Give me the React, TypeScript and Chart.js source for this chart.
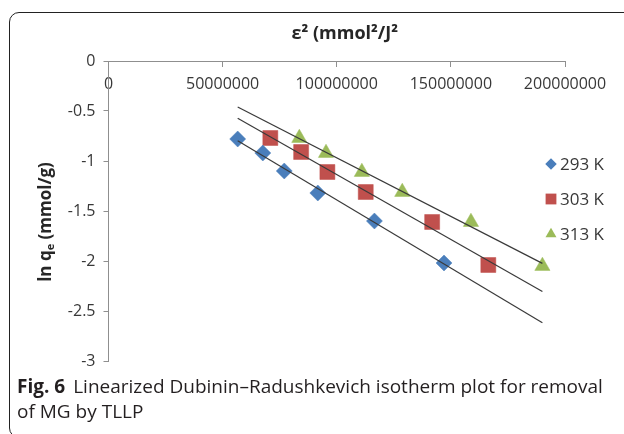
import React, { useEffect, useRef } from 'react';
import { Chart, registerables } from 'chart.js';

Chart.register(...registerables);

// Adsorption potential squared (mmol²/J²) and ln qe (mmol/g) for each temperature
const seriesNames = ['293 K', '303 K', '313 K'];
const eps293 = [56600000, 67600000, 77000000, 91700000, 116500000, 147000000];
const lnq293 = [-0.78, -0.92, -1.1, -1.32, -1.6, -2.02];
const eps303 = [70900000, 84400000, 95900000, 112700000, 141800000, 166400000];
const lnq303 = [-0.77, -0.91, -1.11, -1.31, -1.61, -2.04];
const eps313 = [83600000, 95300000, 111000000, 128700000, 158800000, 190100000];
const lnq313 = [-0.77, -0.92, -1.11, -1.31, -1.61, -2.05];

const xTicks = [0, 50000000, 100000000, 150000000, 200000000];
const yTicks = [0, -0.5, -1, -1.5, -2, -2.5, -3];

const seriesColors = ['#4A7EBB', '#C0504D', '#9BBB59'];
const seriesStyles = ['rectRot', 'rect', 'triangle'];
const seriesRadius = [8, 10.6, 8.8];

const AXIS_GRAY = '#8F8F8F';
const TEXT = '#383838';
const FONT = '"Open Sans", "DejaVu Sans", sans-serif';

// least-squares straight line through a series
function fitLine(xs: number[], ys: number[]) {
  const n = xs.length;
  const mx = xs.reduce((a, b) => a + b, 0) / n;
  const my = ys.reduce((a, b) => a + b, 0) / n;
  let sxy = 0;
  let sxx = 0;
  for (let i = 0; i < n; i++) {
    sxy += (xs[i] - mx) * (ys[i] - my);
    sxx += (xs[i] - mx) * (xs[i] - mx);
  }
  const slope = sxy / sxx;
  return { slope, intercept: my - slope * mx };
}

function drawMarker(ctx: CanvasRenderingContext2D, style: string, x: number, y: number, r: number) {
  ctx.beginPath();
  if (style === 'rectRot') {
    ctx.moveTo(x - r, y);
    ctx.lineTo(x, y - r);
    ctx.lineTo(x + r, y);
    ctx.lineTo(x, y + r);
  } else if (style === 'rect') {
    const s = r * Math.SQRT1_2;
    ctx.rect(x - s, y - s, 2 * s, 2 * s);
  } else {
    ctx.moveTo(x, y - r);
    ctx.lineTo(x + r * 0.866, y + r / 2);
    ctx.lineTo(x - r * 0.866, y + r / 2);
  }
  ctx.closePath();
  ctx.fill();
}

// axis titles and the side legend
const decorations = {
  id: 'decorations',
  afterDraw(chart: any) {
    const { ctx, chartArea } = chart;
    ctx.save();

    // top axis title
    ctx.fillStyle = '#262626';
    ctx.textAlign = 'center';
    ctx.textBaseline = 'middle';
    ctx.font = `bold 18px ${FONT}`;
    ctx.fillText('ε² (mmol²/J²', (chartArea.left + chartArea.right) / 2 + 8, chartArea.top - 27);

    // vertical axis title with subscript
    const big = `bold 17px ${FONT}`;
    const small = `bold 11px ${FONT}`;
    const p1 = 'ln q';
    const p2 = 'e';
    const p3 = ' (mmol/g)';
    ctx.font = big;
    const w1 = ctx.measureText(p1).width;
    const w3 = ctx.measureText(p3).width;
    ctx.font = small;
    const w2 = ctx.measureText(p2).width;
    const total = w1 + w2 + w3;
    ctx.translate(46, (chartArea.top + chartArea.bottom) / 2 + 11);
    ctx.rotate(-Math.PI / 2);
    ctx.textAlign = 'left';
    let cx = -total / 2;
    ctx.font = big;
    ctx.fillText(p1, cx, 0);
    cx += w1;
    ctx.font = small;
    ctx.fillText(p2, cx, 5);
    cx += w2;
    ctx.font = big;
    ctx.fillText(p3, cx, 0);
    ctx.setTransform(1, 0, 0, 1, 0, 0);

    // legend
    const sets = chart.data.datasets.filter((d: any) => d.isSeries);
    ctx.font = `17px ${FONT}`;
    ctx.textAlign = 'left';
    ctx.textBaseline = 'middle';
    sets.forEach((d: any, i: number) => {
      const y = chartArea.top + 103 + i * 35;
      const x = chartArea.right - 14;
      ctx.fillStyle = d.backgroundColor;
      drawMarker(ctx, d.pointStyle, x, y, d.pointRadius * 0.72);
      ctx.fillStyle = TEXT;
      ctx.fillText(d.label, x + 9, y + 1);
    });
    ctx.restore();
  },
};

export default function App() {
  const canvasRef = useRef<HTMLCanvasElement | null>(null);

  useEffect(() => {
    if (!canvasRef.current) return;
    const xs = [eps293, eps303, eps313];
    const ys = [lnq293, lnq303, lnq313];
    const allX = [...eps293, ...eps303, ...eps313];
    const xLo = Math.min(...allX);
    const xHi = Math.max(...allX);

    const points = xs.map((arr, i) => ({
      label: seriesNames[i],
      isSeries: true,
      data: arr.map((x, j) => ({ x, y: ys[i][j] })),
      backgroundColor: seriesColors[i],
      borderColor: seriesColors[i],
      borderWidth: 0.5,
      pointStyle: seriesStyles[i],
      pointRadius: seriesRadius[i],
      pointHoverRadius: seriesRadius[i],
      showLine: false,
      order: 1,
    }));

    const trends = xs.map((arr, i) => {
      const { slope, intercept } = fitLine(arr, ys[i]);
      return {
        label: `${seriesNames[i]} trend`,
        isSeries: false,
        data: [
          { x: xLo, y: slope * xLo + intercept },
          { x: xHi, y: slope * xHi + intercept },
        ],
        borderColor: '#3A3A3A',
        borderWidth: 1.2,
        pointRadius: 0,
        showLine: true,
        fill: false,
        order: 0,
      };
    });

    const chart = new Chart(canvasRef.current, {
      type: 'scatter',
      data: { datasets: [...points, ...trends] as any },
      options: {
        animation: false,
        responsive: false,
        layout: { padding: { left: 0, top: 61, right: 59, bottom: 73 } },
        plugins: {
          legend: { display: false },
          tooltip: { enabled: false },
          title: { display: false },
        },
        scales: {
          x: {
            type: 'linear',
            position: { y: 0 } as any,
            min: 0,
            max: 200000000,
            afterFit: (s: any) => {
              s.height = 0;
            },
            afterBuildTicks: (s: any) => {
              s.ticks = xTicks.map((v) => ({ value: v }));
            },
            grid: { drawOnChartArea: false, drawTicks: true, tickLength: 5, color: AXIS_GRAY, lineWidth: 1 },
            border: { display: true, color: AXIS_GRAY, width: 1 },
            ticks: {
              padding: 9,
              color: TEXT,
              font: { family: FONT, size: 16 },
              maxRotation: 0,
              autoSkip: false,
              callback: (v: any) => String(v),
            },
          },
          y: {
            type: 'linear',
            position: 'left',
            min: -3,
            max: 0,
            afterFit: (s: any) => {
              s.width = 108.5;
            },
            afterBuildTicks: (s: any) => {
              s.ticks = yTicks.map((v) => ({ value: v }));
            },
            grid: { drawOnChartArea: false, drawTicks: true, tickLength: 5, color: AXIS_GRAY, lineWidth: 1 },
            border: { display: true, color: AXIS_GRAY, width: 1 },
            ticks: {
              padding: 8,
              color: TEXT,
              font: { family: FONT, size: 16 },
              callback: (v: any) => String(v),
            },
          },
        },
      },
      plugins: [decorations],
    });
    return () => chart.destroy();
  }, []);

  return (
    <div
      style={{
        position: 'absolute',
        left: 0,
        top: 0,
        width: 624,
        height: 434,
        overflow: 'hidden',
        background: '#fff',
      }}
    >
      <div
        style={{
          position: 'absolute',
          left: 9,
          top: 12,
          width: 720,
          height: 426,
          border: '1.5px solid #222',
          borderRadius: 10,
          boxSizing: 'border-box',
        }}
      />
      <canvas
        ref={canvasRef}
        width={624}
        height={434}
        style={{ position: 'absolute', left: 0, top: 0, width: 624, height: 434 }}
      />
      <div
        style={{
          position: 'absolute',
          left: 17,
          top: 374,
          width: 610,
          fontFamily: '"Open Sans", sans-serif',
          fontSize: 19,
          lineHeight: '25px',
          color: '#231F20',
          whiteSpace: 'nowrap',
        }}
      >
        <div>
          <b>Fig. 6</b>
          <span style={{ marginLeft: 8 }}>Linearized Dubinin–Radushkevich isotherm plot for removal</span>
        </div>
        <div>of MG by TLLP</div>
      </div>
    </div>
  );
}
